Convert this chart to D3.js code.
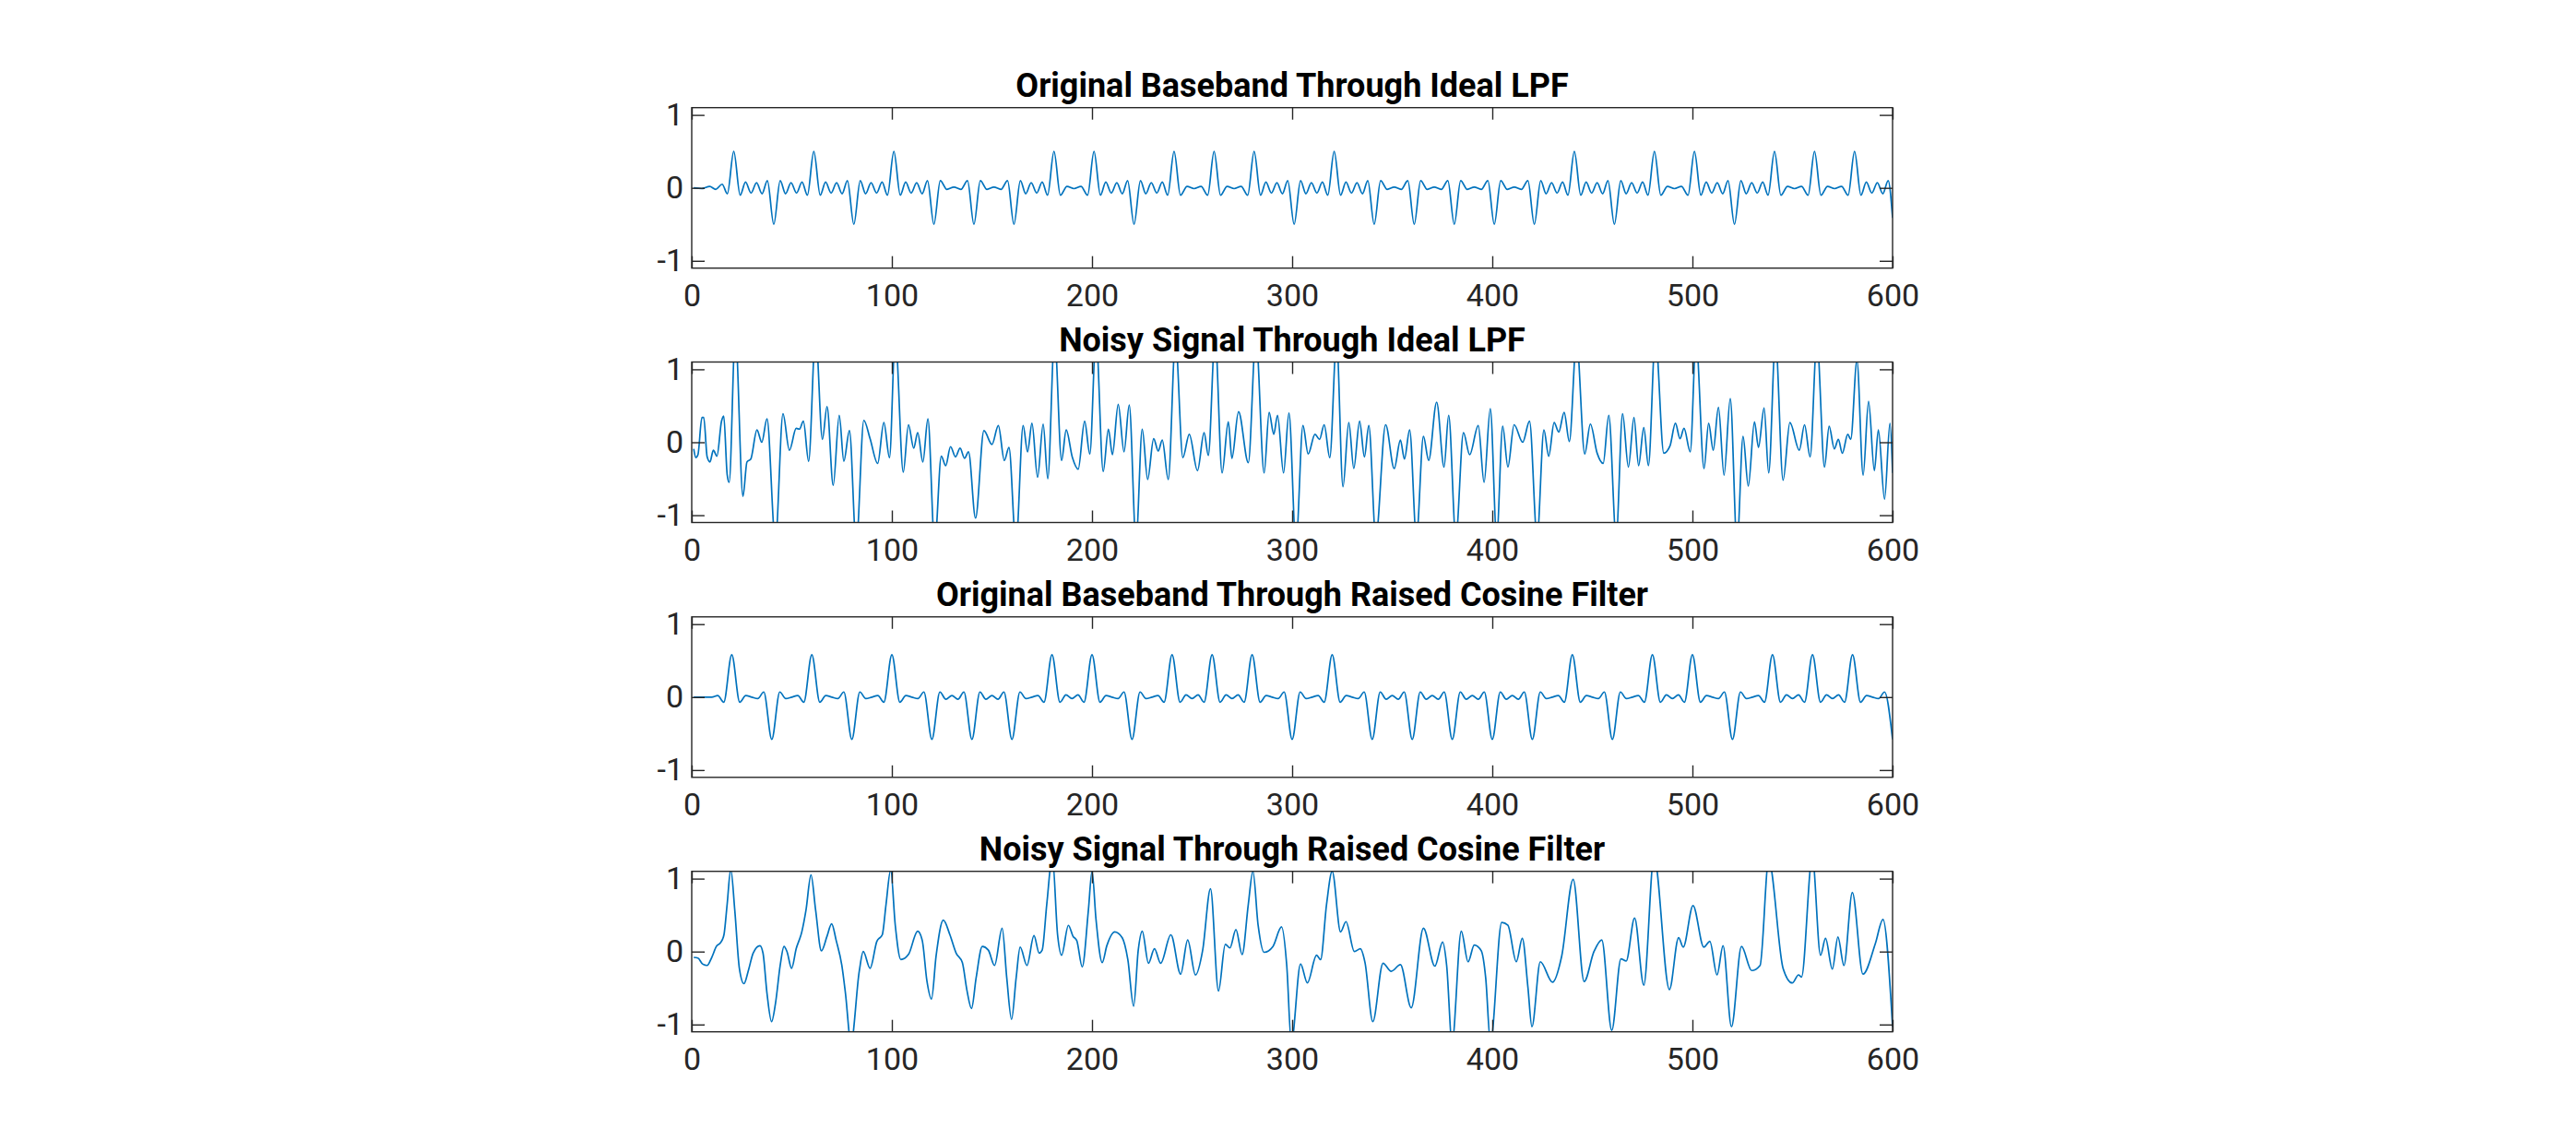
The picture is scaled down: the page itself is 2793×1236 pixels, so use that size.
<!DOCTYPE html>
<html>
<head>
<meta charset="utf-8">
<script src="https://cdn.jsdelivr.net/npm/d3@7"></script>
<style>
  body { margin: 0; background: #fff; }
  text { font-family: Roboto, "Noto Sans", sans-serif; }
</style>
</head>
<body>
<div id="chart"></div>
<script>
// Titles and ticks, top to bottom
var panelTitles = [
  "Original Baseband Through Ideal LPF",
  "Noisy Signal Through Ideal LPF",
  "Original Baseband Through Raised Cosine Filter",
  "Noisy Signal Through Raised Cosine Filter"
];
var xTicks = [0, 100, 200, 300, 400, 500, 600];
var yTicks = [-1, 0, 1];
var xLimits = [0, 600];
var yLimits = [-1.1, 1.1];

// Turning points [sample, value]

var lpfClean = [
  [1,0],[5,-0.01],[9,0.02],[12,-0.02],[15.2,0.05],[17.8,-0.08],
  [21,0.5],[24.2,-0.1],[26.9,0.08],[29.6,-0.07],[32.4,0.07],[35.1,-0.08],[37.8,0.1],
  [41,-0.5],[44.2,0.1],[46.9,-0.08],[49.6,0.07],[52.4,-0.07],[55.1,0.08],[57.8,-0.1],
  [61,0.5],[64.2,-0.1],[66.9,0.08],[69.6,-0.07],[72.4,0.07],[75.1,-0.08],[77.8,0.1],
  [81,-0.5],[84.2,0.1],[86.9,-0.08],[89.6,0.07],[92.4,-0.07],[95.1,0.08],[97.8,-0.1],
  [101,0.5],[104.2,-0.1],[106.9,0.08],[109.6,-0.07],[112.4,0.07],[115.1,-0.08],[117.8,0.1],
  [121,-0.5],[124.2,0.1],[127.5,-0.02],[131,0.01],[134.5,-0.02],[137.8,0.1],
  [141,-0.5],[144.2,0.1],[147.5,-0.02],[151,0.01],[154.5,-0.02],[157.8,0.1],
  [161,-0.5],[164.2,0.1],[166.9,-0.08],[169.6,0.07],[172.4,-0.07],[175.1,0.08],[177.8,-0.1],
  [181,0.5],[184.2,-0.1],[187.5,0.02],[191,-0.01],[194.5,0.02],[197.8,-0.1],
  [201,0.5],[204.2,-0.1],[206.9,0.08],[209.6,-0.07],[212.4,0.07],[215.1,-0.08],[217.8,0.1],
  [221,-0.5],[224.2,0.1],[226.9,-0.08],[229.6,0.07],[232.4,-0.07],[235.1,0.08],[237.8,-0.1],
  [241,0.5],[244.2,-0.1],[247.5,0.02],[251,-0.01],[254.5,0.02],[257.8,-0.1],
  [261,0.5],[264.2,-0.1],[267.5,0.02],[271,-0.01],[274.5,0.02],[277.8,-0.1],
  [281,0.5],[284.2,-0.1],[286.9,0.08],[289.6,-0.07],[292.4,0.07],[295.1,-0.08],[297.8,0.1],
  [301,-0.5],[304.2,0.1],[306.9,-0.08],[309.6,0.07],[312.4,-0.07],[315.1,0.08],[317.8,-0.1],
  [321,0.5],[324.2,-0.1],[326.9,0.08],[329.6,-0.07],[332.4,0.07],[335.1,-0.08],[337.8,0.1],
  [341,-0.5],[344.2,0.1],[347.5,-0.02],[351,0.01],[354.5,-0.02],[357.8,0.1],
  [361,-0.5],[364.2,0.1],[367.5,-0.02],[371,0.01],[374.5,-0.02],[377.8,0.1],
  [381,-0.5],[384.2,0.1],[387.5,-0.02],[391,0.01],[394.5,-0.02],[397.8,0.1],
  [401,-0.5],[404.2,0.1],[407.5,-0.02],[411,0.01],[414.5,-0.02],[417.8,0.1],
  [421,-0.5],[424.2,0.1],[426.9,-0.08],[429.6,0.07],[432.4,-0.07],[435.1,0.08],[437.8,-0.1],
  [441,0.5],[444.2,-0.1],[446.9,0.08],[449.6,-0.07],[452.4,0.07],[455.1,-0.08],[457.8,0.1],
  [461,-0.5],[464.2,0.1],[466.9,-0.08],[469.6,0.07],[472.4,-0.07],[475.1,0.08],[477.8,-0.1],
  [481,0.5],[484.2,-0.1],[487.5,0.02],[491,-0.01],[494.5,0.02],[497.8,-0.1],
  [501,0.5],[504.2,-0.1],[506.9,0.08],[509.6,-0.07],[512.4,0.07],[515.1,-0.08],[517.8,0.1],
  [521,-0.5],[524.2,0.1],[526.9,-0.08],[529.6,0.07],[532.4,-0.07],[535.1,0.08],[537.8,-0.1],
  [541,0.5],[544.2,-0.1],[547.5,0.02],[551,-0.01],[554.5,0.02],[557.8,-0.1],
  [561,0.5],[564.2,-0.1],[567.5,0.02],[571,-0.01],[574.5,0.02],[577.8,-0.1],
  [581,0.5],[584.2,-0.1],[586.9,0.08],[589.6,-0.07],[592.4,0.07],[595.1,-0.08],[597.8,0.1],
  [600,-0.41]
];

var lpfNoisy = [
  [1,-0.09],[2,-0.21],[3.1,-0.17],[5.1,0.34],[6,0.34],[7.7,-0.2],[9.1,-0.27],[10.8,-0.11],
  [12.6,-0.19],[14.9,0.29],[16,0.36],[17.7,-0.44],[18.7,-0.55],[21.8,1.5],[25.6,-0.74],
  [27.6,-0.27],[29.5,-0.23],[32.6,0.17],[35,0],[37.6,0.32],[41.8,-1.35],[45.6,0.39],
  [48.8,-0.11],[52.2,0.19],[53.8,0.18],[55.8,0.29],[58.4,-0.26],[61.9,1.5],[65.3,0.04],
  [67.6,0.49],[70.7,-0.59],[73.7,0.37],[76,-0.26],[78.8,0.16],[82.2,-1.4],[86,0.3],
  [89.1,0.05],[92.9,-0.29],[96,0.27],[98.8,-0.21],[101.7,1.45],[105.7,-0.41],[108.3,0.24],
  [110.9,-0.08],[112.9,0.13],[115.5,-0.27],[118,0.32],[121.4,-1.4],[124.7,-0.19],
  [126.9,-0.32],[129.3,-0.06],[131.8,-0.2],[134.1,-0.08],[136.3,-0.22],[138.3,-0.13],
  [141.8,-1.04],[146,0.16],[150,-0.03],[153.2,0.23],[156.2,-0.25],[158.5,-0.07],[162,-1.4],
  [165.6,0.23],[167.8,-0.13],[170,0.26],[172.8,-0.48],[175.6,0.25],[177.9,-0.5],[181.3,1.45],
  [184.8,-0.25],[187.1,0.17],[190.2,-0.21],[193.1,-0.37],[196.3,0.29],[198.9,-0.16],[202,1.45],
  [205.6,-0.4],[208.2,0.18],[210.2,-0.17],[213.1,0.52],[216,-0.13],[218.6,0.51],[222,-1.35],
  [225.1,0.18],[227.8,-0.51],[230.8,0.05],[233.1,-0.12],[235.1,0.03],[238.1,-0.51],[241.7,1.4],
  [245.4,-0.21],[248.6,0.11],[252.7,-0.39],[256,0.13],[258.1,-0.18],[261.5,1.45],[265,-0.42],
  [268.1,0.28],[269.9,-0.22],[273.2,0.42],[278.1,-0.28],[281.9,1.45],[286,-0.42],[288.5,0.41],
  [290.8,0.11],[292.7,0.37],[295.7,-0.42],[298.4,0.4],[301.9,-1.4],[305.4,0.23],[308,-0.16],
  [311.4,0.11],[313.7,0.04],[316,0.24],[318.8,-0.21],[322.2,1.4],[325.4,-0.61],[328.3,0.27],
  [330.8,-0.36],[333.7,0.29],[336.1,-0.2],[338.3,0.23],[341.8,-1.3],[346.7,0.24],[351,-0.36],
  [354.1,0.03],[356.1,-0.23],[358.7,0.17],[362.1,-1.3],[365.6,0.08],[368.2,-0.25],[372.2,0.55],
  [375.9,-0.34],[378.2,0.37],[381.8,-1.3],[385.6,0.13],[388.7,-0.17],[393,0.23],[395.9,-0.55],
  [399,0.46],[402.2,-1.3],[405.2,0.22],[407.8,-0.34],[410.9,0.24],[415.2,0],[418.6,0.29],
  [422.4,-1.3],[425.8,0.17],[428.2,-0.19],[430.9,0.27],[433.2,0.14],[435.9,0.41],[438.5,0.01],
  [442.1,1.4],[446.2,-0.16],[449,0.25],[452.4,-0.15],[455.4,-0.29],[458.2,0.37],[461.9,-1.3],
  [465.1,0.39],[468,-0.34],[470.8,0.34],[473.1,-0.32],[475.7,0.2],[478,-0.32],[481.5,1.45],
  [485.7,-0.15],[488.8,-0.05],[491.5,0.26],[493.8,0.05],[495.8,0.19],[498.9,-0.13],[501.8,1.4],
  [505.8,-0.36],[508.1,0.26],[510.4,-0.11],[513,0.48],[515.8,-0.45],[518.9,0.6],[522.3,-1.4],
  [525.3,0.08],[527.9,-0.6],[531,0.28],[533,-0.07],[535.8,0.47],[538.1,-0.42],[541.5,1.4],
  [545.3,-0.52],[548.7,0.27],[553.4,-0.11],[556,0.24],[558.8,-0.2],[562.2,1.4],[566,-0.34],
  [568.3,0.22],[570.9,-0.09],[572.9,0.04],[574.9,-0.15],[577.6,0.11],[579.1,0.04],[582.2,1.12],
  [585.3,-0.45],[588,0.56],[590.9,-0.39],[592.9,0.17],[596,-0.78],[598.7,0.26],[600,-0.42]
];

var rcClean = [
  [1,0],[10,0],[13,0.02],[16,-0.07],
  [20,0.58],[24,-0.07],[27,0.02],[30,0],[33,-0.02],[36,0.07],
  [40,-0.58],[44,0.07],[47,-0.02],[50,0],[53,0.02],[56,-0.07],
  [60,0.58],[64,-0.07],[67,0.02],[70,0],[73,-0.02],[76,0.07],
  [80,-0.58],[84,0.07],[87,-0.02],[90,0],[93,0.02],[96,-0.07],
  [100,0.58],[104,-0.07],[107,0.02],[110,0],[113,-0.02],[116,0.07],
  [120,-0.58],[124,0.07],[127,-0.03],[130,0.02],[133,-0.03],[136,0.07],
  [140,-0.58],[144,0.07],[147,-0.03],[150,0.02],[153,-0.03],[156,0.07],
  [160,-0.58],[164,0.07],[167,-0.02],[170,0],[173,0.02],[176,-0.07],
  [180,0.58],[184,-0.07],[187,0.03],[190,-0.02],[193,0.03],[196,-0.07],
  [200,0.58],[204,-0.07],[207,0.02],[210,0],[213,-0.02],[216,0.07],
  [220,-0.58],[224,0.07],[227,-0.02],[230,0],[233,0.02],[236,-0.07],
  [240,0.58],[244,-0.07],[247,0.03],[250,-0.02],[253,0.03],[256,-0.07],
  [260,0.58],[264,-0.07],[267,0.03],[270,-0.02],[273,0.03],[276,-0.07],
  [280,0.58],[284,-0.07],[287,0.02],[290,0],[293,-0.02],[296,0.07],
  [300,-0.58],[304,0.07],[307,-0.02],[310,0],[313,0.02],[316,-0.07],
  [320,0.58],[324,-0.07],[327,0.02],[330,0],[333,-0.02],[336,0.07],
  [340,-0.58],[344,0.07],[347,-0.03],[350,0.02],[353,-0.03],[356,0.07],
  [360,-0.58],[364,0.07],[367,-0.03],[370,0.02],[373,-0.03],[376,0.07],
  [380,-0.58],[384,0.07],[387,-0.03],[390,0.02],[393,-0.03],[396,0.07],
  [400,-0.58],[404,0.07],[407,-0.03],[410,0.02],[413,-0.03],[416,0.07],
  [420,-0.58],[424,0.07],[427,-0.02],[430,0],[433,0.02],[436,-0.07],
  [440,0.58],[444,-0.07],[447,0.02],[450,0],[453,-0.02],[456,0.07],
  [460,-0.58],[464,0.07],[467,-0.02],[470,0],[473,0.02],[476,-0.07],
  [480,0.58],[484,-0.07],[487,0.03],[490,-0.02],[493,0.03],[496,-0.07],
  [500,0.58],[504,-0.07],[507,0.02],[510,0],[513,-0.02],[516,0.07],
  [520,-0.58],[524,0.07],[527,-0.02],[530,0],[533,0.02],[536,-0.07],
  [540,0.58],[544,-0.07],[547,0.03],[550,-0.02],[553,0.03],[556,-0.07],
  [560,0.58],[564,-0.07],[567,0.03],[570,-0.02],[573,0.03],[576,-0.07],
  [580,0.58],[584,-0.07],[587,0.02],[590,0],[593,-0.02],[596,0.07],
  [600,-0.58]
];

var rcNoisy = [
  [1,-0.08],[3.1,-0.09],[5.4,-0.17],[7.7,-0.19],[10,-0.08],[12.3,0.07],[14.6,0.13],[16.1,0.23],
  [17.7,0.65],[19.5,1.13],[21.5,0.57],[23.8,-0.23],[26.1,-0.44],[28.4,-0.25],[30.7,-0.02],
  [34.1,0.08],[35.6,-0.02],[37.6,-0.57],[39.9,-0.96],[41.9,-0.7],[44.2,-0.19],[46.1,0.07],
  [47.6,0],[49.9,-0.23],[52.2,0.04],[55,0.27],[57.1,0.57],[59.6,1.05],[61.9,0.57],[64.8,0.01],
  [67.6,0.21],[69.9,0.38],[72.2,0.15],[75,-0.19],[76.8,-0.57],[79.6,-1.25],[83.7,-0.27],
  [85.7,0],[89.1,-0.23],[92.5,0.14],[95.2,0.23],[97.1,0.65],[99.4,1.12],[101.7,0.36],
  [104.5,-0.11],[108.3,-0.04],[112.9,0.28],[115.2,0.15],[117.5,-0.4],[119.8,-0.65],
  [122.1,-0.06],[125.7,0.43],[129,0.23],[132.1,-0.02],[135.2,-0.15],[137.5,-0.53],
  [139.8,-0.78],[142.1,-0.36],[145.2,0.07],[148.2,0.02],[151.3,-0.19],[155.1,0.32],
  [157.4,-0.36],[159.8,-0.93],[162.1,-0.36],[164.1,0.06],[167.5,-0.19],[171,0.22],
  [173.6,-0.02],[175.1,0.02],[177.4,0.65],[180.2,1.3],[182.8,0.23],[184.8,-0.05],[188.2,0.36],
  [190.5,0.21],[192.4,0.15],[195.1,-0.21],[198.2,0.57],[200,1.1],[202,0.44],[205.1,-0.15],
  [207.4,0.08],[211.3,0.27],[215.1,0.19],[217.9,-0.11],[220.8,-0.75],[223.1,0.02],[225.1,0.28],
  [228.2,-0.16],[231.2,0.04],[234.3,-0.16],[239.4,0.23],[244.3,-0.31],[247.8,0.16],
  [251.7,-0.32],[255.3,0.02],[259.2,0.86],[263.2,-0.54],[266.6,0.1],[268.9,0.05],[271.9,0.3],
  [275,-0.04],[278.1,0.65],[280.4,1.1],[283,0.36],[286,-0.01],[290.4,0.07],[294.7,0.34],
  [297.3,-0.19],[299.6,-1.25],[304.2,-0.17],[307.6,-0.43],[312.2,-0.05],[314.2,-0.11],
  [317.2,0.65],[320,1.1],[324.2,0.27],[326.9,0.41],[331.1,0],[334.1,0.04],[336.4,-0.15],
  [340.3,-0.96],[345.4,-0.16],[349.5,-0.27],[354.1,-0.18],[359.5,-0.77],[365.6,0.32],
  [371.3,-0.2],[375.2,0.13],[377.2,-0.19],[379.9,-1.25],[384.5,0.28],[387.9,-0.14],[391,0.09],
  [394.5,0.01],[396.7,-0.36],[399.1,-1.25],[404.7,0.4],[407.8,0.36],[412,-0.14],[415,0.18],
  [417.8,-0.49],[419.8,-1.03],[424,-0.14],[430.1,-0.42],[434.7,-0.06],[440.4,0.99],
  [445.9,-0.41],[450.8,0],[454.7,0.16],[459.7,-1.08],[464.3,-0.1],[466.9,-0.13],[471.1,0.46],
  [475.7,-0.46],[480.8,1.3],[488.5,-0.52],[493.1,0.19],[495.4,0.06],[500.3,0.63],[505.7,0.06],
  [508.7,0.14],[512.3,-0.32],[515.3,0.08],[519.5,-1.03],[524.5,0.07],[529.6,-0.26],
  [533.8,-0.19],[538.1,1.25],[545.3,-0.23],[549.9,-0.43],[553,-0.32],[554.5,-0.35],
  [559.9,1.3],[564,-0.05],[566.5,0.18],[569.9,-0.24],[572.7,0.2],[575.7,-0.19],[579.9,0.81],
  [585.2,-0.31],[591.4,0.11],[595.2,0.44],[600,-1.03]
];

var panelSeries = [lpfClean, lpfNoisy, rcClean, rcNoisy];

// Figure size and axes placement (pixels)
var svgWidth = 2793;
var svgHeight = 1236;
var axLeft = 750;
var axWidth = 1302;
var axHeight = 174;
var axTops = [116.7, 392.5, 668.8, 944.7];

var axisColor = "#262626";
var lineColor = "#0072BD";

var svg = d3.select("#chart")
  .append("svg")
  .attr("width", svgWidth)
  .attr("height", svgHeight)
  .style("background", "#fff");

var xScale = d3.scaleLinear().domain(xLimits).range([0, axWidth]);
var yScale = d3.scaleLinear().domain(yLimits).range([axHeight, 0]);

var signalLine = d3.line()
  .x(d => xScale(d[0]))
  .y(d => yScale(d[1]))
  .curve(d3.curveMonotoneX);

// plain integer labels with an ascii minus, as in the original
var plainFormat = d => String(d);

panelTitles.forEach(function(title, i) {
  var g = svg.append("g")
    .attr("transform", `translate(${axLeft}, ${axTops[i]})`);

  // keep the trace inside the box, like the clipped peaks in the original
  svg.append("clipPath")
    .attr("id", "clip" + i)
    .append("rect")
    .attr("width", axWidth)
    .attr("height", axHeight);

  g.append("path")
    .datum(panelSeries[i])
    .attr("clip-path", `url(#clip${i})`)
    .attr("fill", "none")
    .attr("stroke", lineColor)
    .attr("stroke-width", 1.7)
    .attr("stroke-linejoin", "round")
    .attr("d", signalLine);

  // ticks point inward on all four sides
  var bottomAxis = g.append("g")
    .attr("transform", `translate(0, ${axHeight})`)
    .call(d3.axisBottom(xScale).tickValues(xTicks).tickFormat(plainFormat)
      .tickSizeInner(-13).tickSizeOuter(0).tickPadding(17));
  var topAxis = g.append("g")
    .call(d3.axisTop(xScale).tickValues(xTicks).tickSizeInner(-13).tickSizeOuter(0).tickFormat(""));
  var leftAxis = g.append("g")
    .call(d3.axisLeft(yScale).tickValues(yTicks).tickFormat(plainFormat)
      .tickSizeInner(-14).tickSizeOuter(0).tickPadding(9));
  var rightAxis = g.append("g")
    .attr("transform", `translate(${axWidth}, 0)`)
    .call(d3.axisRight(yScale).tickValues(yTicks).tickSizeInner(-14).tickSizeOuter(0).tickFormat(""));

  [bottomAxis, topAxis, leftAxis, rightAxis].forEach(function(a) {
    a.select(".domain").remove();
    a.selectAll("line").attr("stroke", axisColor).attr("stroke-width", 1.4);
    a.selectAll("text")
      .attr("fill", axisColor)
      .style("font-family", "Roboto, sans-serif")
      .style("font-size", "34px");
  });

  // axes box
  g.append("rect")
    .attr("width", axWidth)
    .attr("height", axHeight)
    .attr("fill", "none")
    .attr("stroke", axisColor)
    .attr("stroke-width", 1.4);

  g.append("text")
    .attr("x", axWidth / 2)
    .attr("y", -12)
    .attr("text-anchor", "middle")
    .attr("fill", "#000")
    .style("font-family", "Roboto, sans-serif")
    .style("font-weight", "bold")
    .style("font-size", "36px")
    .text(title);
});
</script>
</body>
</html>
